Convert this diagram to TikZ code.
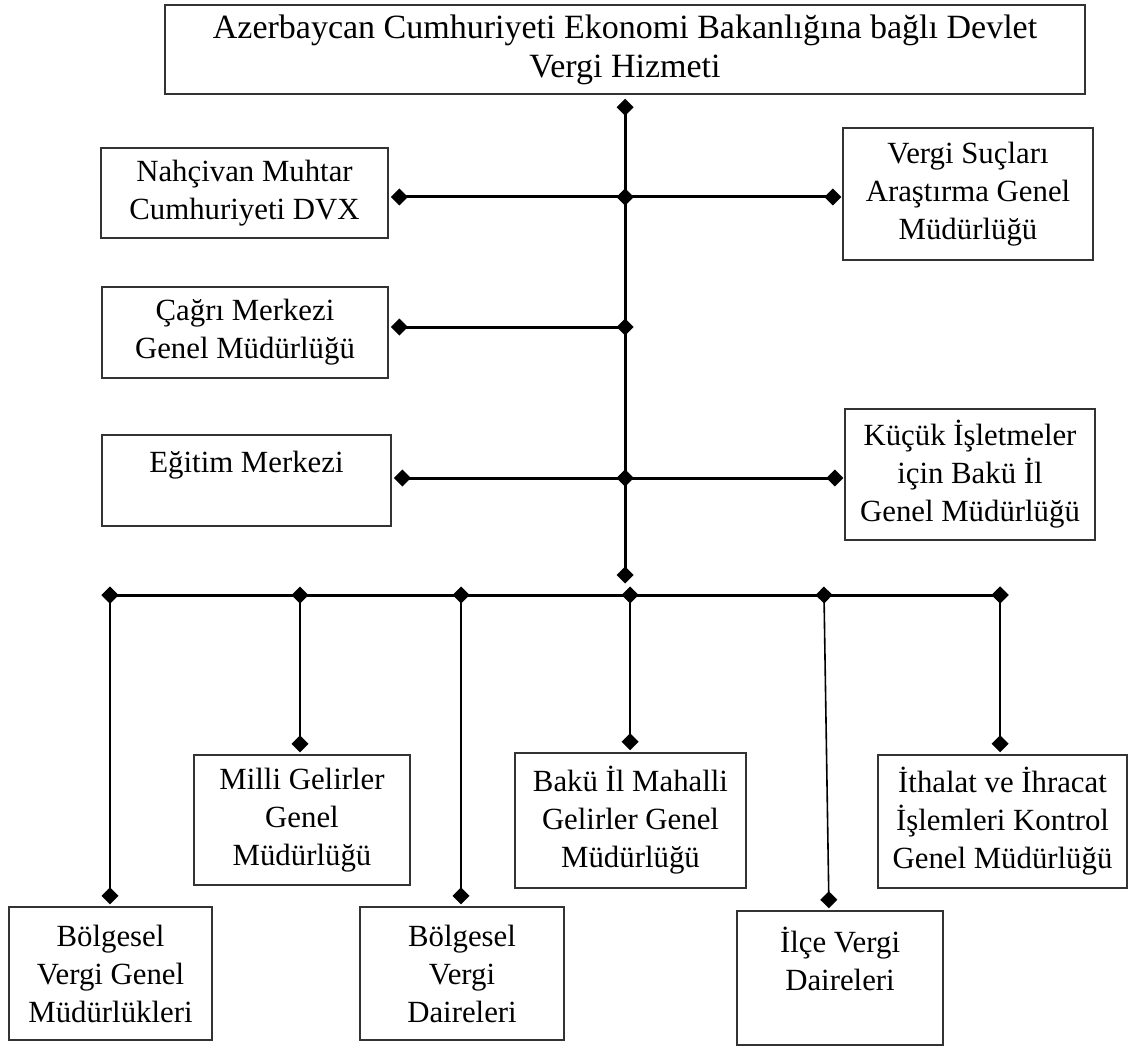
\documentclass[tikz,border=0pt]{standalone}
\usepackage{fontspec}
\setmainfont{Liberation Serif}
\usetikzlibrary{arrows.meta}

\tikzset{
    box/.style={draw=black!80, line width=0.75pt, align=center, inner sep=0pt,
        font=\fontsize{15.4pt}{19pt}\selectfont},
    dia/.style={arrows={Diamond[length=8.5pt,width=8.5pt]-Diamond[length=8.5pt,width=8.5pt]}},
    trunk/.style={dia, line width=1.5pt},
    drop/.style={dia, line width=0.8pt}
}

\begin{document}
\begin{tikzpicture}[x=0.5pt,y=-0.5pt]
    \useasboundingbox (0,0) rectangle (1133,1048);

    % Top box
    \node[box, minimum width=460pt, minimum height=44.5pt,
        font=\fontsize{17pt}{19.5pt}\selectfont] (dvx) at (625,49.5)
        {Azerbaycan Cumhuriyeti Ekonomi Bakanlığına bağlı Devlet\\Vergi Hizmeti};

    % Left side boxes
    \node[box, minimum width=143.5pt, minimum height=45pt] (nahcivan) at (244.5,193)
        {Nahçivan Muhtar\\Cumhuriyeti DVX};
    \node[box, minimum width=143pt, minimum height=45.5pt] (cagri) at (245,332.5)
        {Çağrı Merkezi\\Genel Müdürlüğü};
    \node[box, minimum width=144.5pt, minimum height=45.5pt] (egitim) at (246.5,480.5)
        {Eğitim Merkezi\\\mbox{}};

    % Right side boxes
    \node[box, minimum width=125pt, minimum height=66pt] (sucar) at (968,194)
        {Vergi Suçları\\Araştırma Genel\\Müdürlüğü};
    \node[box, minimum width=125pt, minimum height=65.5pt] (kucuk) at (970,474.5)
        {Küçük İşletmeler\\için Bakü İl\\Genel Müdürlüğü};

    % Bottom boxes
    \node[box, minimum width=101.5pt, minimum height=66.5pt] (bvgm) at (110.5,973.5)
        {Bölgesel\\Vergi Genel\\Müdürlükleri};
    \node[box, minimum width=108pt, minimum height=65pt] (milli) at (302,820)
        {Milli Gelirler\\Genel\\Müdürlüğü};
    \node[box, minimum width=102pt, minimum height=66.5pt] (bvd) at (462,973.5)
        {Bölgesel\\Vergi\\Daireleri};
    \node[box, minimum width=115.5pt, minimum height=67.5pt] (baku) at (630.5,820.5)
        {Bakü İl Mahalli\\Gelirler Genel\\Müdürlüğü};
    \node[box, minimum width=103pt, minimum height=67pt] (ilce) at (840,978)
        {İlçe Vergi\\Daireleri\\\mbox{}};
    \node[box, minimum width=124.5pt, minimum height=66.5pt] (ithalat) at (1002.5,821.5)
        {İthalat ve İhracat\\İşlemleri Kontrol\\Genel Müdürlüğü};

    % Junctions on the trunk
    \coordinate (j1) at (625,197);
    \coordinate (j2) at (625,327);
    \coordinate (j3) at (625,478);
    \coordinate (jend) at (625,575);

    % Junctions on the bus
    \coordinate (b1) at (110,595);
    \coordinate (b2) at (300,595);
    \coordinate (b3) at (461,595);
    \coordinate (b4) at (630,595);
    \coordinate (b5) at (824,595);
    \coordinate (b6) at (1000,595);

    % Trunk
    \draw[trunk, shorten <=2pt, shorten >=-4.25pt] (dvx.south) -- (jend);

    % Side branches
    \draw[trunk, shorten <=-4.25pt, shorten >=1pt] (j1) -- (j1 -| nahcivan.east);
    \draw[trunk, shorten <=-4.25pt, shorten >=0.5pt] (j1) -- (j1 -| sucar.west);
    \draw[trunk, shorten <=-4.25pt, shorten >=1pt] (j2) -- (j2 -| cagri.east);
    \draw[trunk, shorten <=-4.25pt, shorten >=1pt] (j3) -- (j3 -| egitim.east);
    \draw[trunk, shorten <=-4.25pt, shorten >=0.5pt] (j3) -- (j3 -| kucuk.west);

    % Bus
    \draw[trunk, shorten <=-4.25pt, shorten >=-4.25pt] (b1) -- (b6);

    % Drops to the lower boxes
    \draw[drop, shorten <=-4.25pt, shorten >=1pt] (b1) -- (b1 |- bvgm.north);
    \draw[drop, shorten <=-4.25pt, shorten >=1pt] (b2) -- (b2 |- milli.north);
    \draw[drop, shorten <=-4.25pt, shorten >=1pt] (b3) -- (b3 |- bvd.north);
    \draw[drop, shorten <=-4.25pt, shorten >=1pt] (b4) -- (b4 |- baku.north);
    \draw[drop, shorten <=-4.25pt, shorten >=1pt] (b5) -- ([xshift=-5.5pt]ilce.north);
    \draw[drop, shorten <=-4.25pt, shorten >=1pt] (b6) -- (b6 |- ithalat.north);
\end{tikzpicture}
\end{document}
